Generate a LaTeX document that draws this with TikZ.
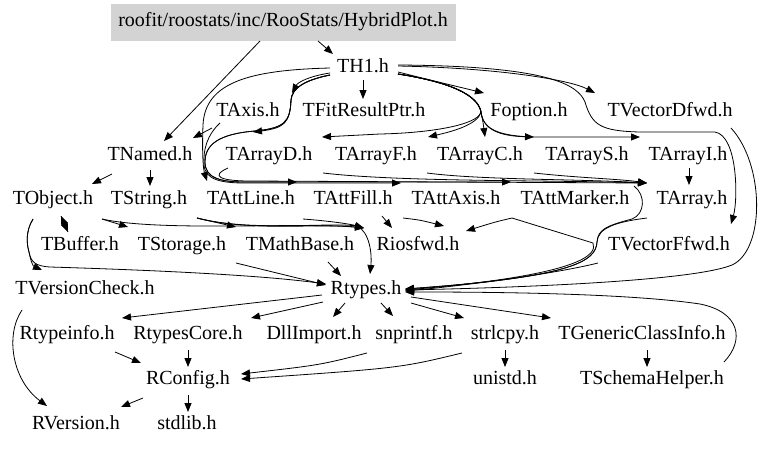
\documentclass[tikz,border=0pt]{standalone}
\usepackage{fontspec}
\setmainfont{Liberation Serif}
\usetikzlibrary{arrows.meta,calc}
\newcommand\nfont{\fontsize{20}{24}\selectfont}
\begin{document}
\begin{tikzpicture}[x=1pt,y=-1pt,
  nd/.style={inner sep=0pt,font=\nfont,text height=13pt,text depth=4pt,anchor=center},
  hp/.style={nd,fill={rgb,255:red,211;green,211;blue,211},minimum width=345pt,minimum height=37pt},
  lnk/.style={draw=black,line width=0.8pt,-{Triangle[length=9pt,width=7pt]}},
  lnkb/.style={draw=black,line width=0.8pt}]
\useasboundingbox (0,0) rectangle (768,448);
% nodes
\node[hp] (HP) at (283,22) {roofit/roostats/inc/RooStats/HybridPlot.h};
\node[nd] (TH1) at (363,68) {TH1.h};
\node[nd] (TAxis) at (248,112) {TAxis.h};
\node[nd] (TFit) at (364,112) {TFitResultPtr.h};
\node[nd] (Fopt) at (529,112) {Foption.h};
\node[nd] (TVD) at (670,112) {TVectorDfwd.h};
\node[nd] (TNamed) at (150,156) {TNamed.h};
\node[nd] (TAD) at (269,156) {TArrayD.h};
\node[nd] (TAF) at (376,156) {TArrayF.h};
\node[nd] (TAC) at (480,156) {TArrayC.h};
\node[nd] (TAS) at (587,156) {TArrayS.h};
\node[nd] (TAI) at (688,156) {TArrayI.h};
\node[nd] (TObj) at (53,200) {TObject.h};
\node[nd] (TStr) at (149,200) {TString.h};
\node[nd] (TAL) at (251,200) {TAttLine.h};
\node[nd] (TAFill) at (353,200) {TAttFill.h};
\node[nd] (TAAx) at (456,200) {TAttAxis.h};
\node[nd] (TAM) at (575,200) {TAttMarker.h};
\node[nd] (TArr) at (692,200) {TArray.h};
\node[nd] (TBuf) at (80,246) {TBuffer.h};
\node[nd] (TSto) at (182,246) {TStorage.h};
\node[nd] (TMB) at (300,246) {TMathBase.h};
\node[nd] (Rios) at (418,246) {Riosfwd.h};
\node[nd] (TVF) at (669,246) {TVectorFfwd.h};
\node[nd] (TVC) at (85,290) {TVersionCheck.h};
\node[nd] (Rty) at (366,290) {Rtypes.h};
\node[nd] (Rti) at (67,335) {Rtypeinfo.h};
\node[nd] (RtC) at (188,335) {RtypesCore.h};
\node[nd] (Dll) at (314,335) {DllImport.h};
\node[nd] (snp) at (414,335) {snprintf.h};
\node[nd] (strl) at (505,335) {strlcpy.h};
\node[nd] (TGCI) at (642,335) {TGenericClassInfo.h};
\node[nd] (RCf) at (188,380) {RConfig.h};
\node[nd] (uni) at (505,380) {unistd.h};
\node[nd] (TSH) at (652,380) {TSchemaHelper.h};
\node[nd] (RVer) at (76,425) {RVersion.h};
\node[nd] (stdl) at (187,425) {stdlib.h};
% edges
\draw[lnk] ($(HP)+(35,19)$) -- ($(TH1)+(-30,-14)$);
\draw[lnk] ($(HP)+(-23,19)$) -- ($(TNamed)+(14,-15)$);
\draw[lnk] ($(TH1)+(-33,5)$) .. controls (310,76) and (298,82) .. ($(TAxis)+(44,-19)$);
\draw[lnk] ($(TH1)+(-33,7)$) .. controls (305,80) and (292,88) .. (291,100) .. controls (290,122) and (285,128) .. ($(TAxis)+(5,20)$);
\draw[lnk] ($(TH1)+(-33,0)$) .. controls (250,70) and (205,82) .. (203,125) .. controls (202,150) and (203,168) .. ($(TAL)+(-44,-19)$);
\draw[lnk] ($(TH1)+(-33,7)$) .. controls (305,80) and (292,88) .. (291,100) .. controls (290,122) and (285,128) .. (255,131) .. controls (218,134) and (205,145) .. (205,162) .. controls (205,178) and (220,182) .. (245,182) -- ($(TAFill)+(-56,-18)$);
\draw[lnk] ($(TH1)+(-33,7)$) .. controls (305,80) and (292,88) .. (291,100) .. controls (290,122) and (285,128) .. (255,131) .. controls (218,134) and (205,145) .. (205,162) .. controls (205,178) and (220,182) .. (245,182) -- ($(TAM)+(-64,-18)$);
\draw[lnk] ($(TAxis)+(-28,11)$) .. controls (207,135) and (203,150) .. (204,165) .. controls (205,180) and (222,183) .. (245,183) -- ($(TAAx)+(-55,-17)$);
\draw[lnk] ($(TAxis)+(-36,16)$) -- ($(TNamed)+(43,-18)$);
\draw[lnk] ($(TAD)+(-41,12)$) .. controls (210,176) and (220,181) .. (250,181) -- ($(TArr)+(-45,-17)$);
\draw[lnk] ($(TAF)+(-53,17)$) .. controls (400,182) and (550,180) .. ($(TArr)+(-45,-17)$);
\draw[lnk] ($(TAC)+(-53,17)$) .. controls (480,180) and (580,179) .. ($(TArr)+(-45,-17)$);
\draw[lnk] ($(TAS)+(-53,17)$) .. controls (580,178) and (620,179) .. ($(TArr)+(-45,-17)$);
\draw[lnk] ($(TAI)+(1,12)$) -- ($(TArr)+(-3,-15)$);
\draw[lnk] ($(TH1)+(0,12)$) -- ($(TFit)+(-1,-13)$);
\draw[lnk] ($(TH1)+(35,4)$) .. controls (430,80) .. ($(Fopt)+(-45,-19)$);
\draw[lnk] ($(TH1)+(35,6)$) .. controls (450,82) and (478,95) .. (481,112) .. controls (483,122) .. ($(TAC)+(5,-19)$);
\draw[lnk] ($(TH1)+(35,6)$) .. controls (450,82) and (478,95) .. (481,112) .. controls (478,125) and (450,132) .. ($(TAF)+(52,-19)$);
\draw[lnk] ($(TH1)+(35,6)$) .. controls (450,82) and (478,95) .. (481,112) .. controls (478,125) and (430,133) .. (380,134) -- ($(TAD)+(53,-19)$);
\draw[lnk] ($(TH1)+(35,6)$) .. controls (450,82) and (478,95) .. (481,112) .. controls (483,130) and (500,136) .. ($(TAS)+(-53,-19)$);
\draw[lnk] ($(TH1)+(35,6)$) .. controls (450,82) and (478,95) .. (481,112) .. controls (483,130) and (500,136) .. (534,137) -- ($(TAI)+(-48,-19)$);
\draw[lnk] ($(TH1)+(35,-2)$) .. controls (500,68) and (570,80) .. ($(TVD)+(-75,-19)$);
\draw[lnk] ($(TH1)+(35,-3)$) .. controls (550,66) and (578,85) .. (585,102) .. controls (592,125) and (600,131) .. (640,132) -- (715,132) .. controls (738,136) and (738,200) .. ($(TVF)+(62,-22)$);
\draw[lnk] ($(TVD)+(61,16)$) .. controls (765,165) and (765,250) .. (732,265) .. controls (690,282) and (500,288) .. ($(Rty)+(39,0)$);
\draw[lnk] ($(TAM)+(59,-14)$) .. controls (646,195) and (645,214) .. (632,219) .. controls (605,226) and (598,230) .. (597,242) .. controls (596,262) and (570,277) .. ($(Rty)+(39,-1)$);
\draw[lnk] ($(TArr)+(-45,18)$) .. controls (615,222) and (598,228) .. (597,242) .. controls (596,262) and (570,277) .. ($(Rty)+(39,-1)$);
\draw[lnk] ($(TAAx)+(56,18)$) -- (593,243) .. controls (598,255) and (580,275) .. ($(Rty)+(39,0)$);
\draw[lnk] ($(TVF)+(-71,17)$) .. controls (550,275) and (450,287) .. ($(Rty)+(39,1)$);
\draw[lnk] ($(TSH)+(72,-18)$) .. controls (745,340) and (740,312) .. (700,304) .. controls (620,292) and (460,292) .. ($(Rty)+(39,2)$);
\draw[lnk] ($(TAFill)+(29,16)$) -- ($(Rios)+(-26,-18)$);
\draw[lnk] ($(TAAx)+(-53,18)$) .. controls (420,220) .. ($(Rios)+(26,-20)$);
\draw[lnk] ($(TAM)+(-63,18)$) .. controls (495,222) .. ($(Rios)+(48,-15)$);
\draw[lnk] ($(TAL)+(52,19)$) .. controls (330,221) and (350,224) .. ($(Rios)+(-54,-18)$);
\draw[lnk] ($(TObj)+(49,19)$) -- ($(TSto)+(-54,-19)$);
\draw[lnk] ($(TObj)+(49,19)$) .. controls (160,232) and (300,222) .. ($(Rios)+(-54,-18)$);
\draw[lnk] ($(TStr)+(48,18)$) -- ($(TMB)+(-64,-19)$);
\draw[lnk] ($(TStr)+(48,18)$) .. controls (250,232) and (320,223) .. ($(Rios)+(-54,-18)$);
\draw[lnk] ($(TStr)+(48,18)$) .. controls (250,232) and (330,222) .. (357,226) .. controls (370,232) and (372,255) .. ($(Rty)+(4,-16)$);
\draw[lnk] ($(TNamed)+(-38,18)$) -- ($(TObj)+(39,-16)$);
\draw[lnk] ($(TNamed)+(0,14)$) -- ($(TStr)+(1,-14)$);
\draw[lnk] ($(TObj)+(8,16)$) -- ($(TBuf)+(-12,-14)$);
\draw[lnk] ($(TBuf)+(-12,-14)$) -- ($(TObj)+(8,16)$);
\draw[lnk] ($(TObj)+(-20,19)$) .. controls (25,232) and (27,245) .. (29,252) .. controls (31,262) and (33,266) .. ($(TVC)+(-43,-20)$);
\draw[lnk] ($(TObj)+(-20,19)$) .. controls (25,232) and (27,245) .. (29,252) .. controls (31,262) and (35,266) .. (50,267) .. controls (150,270) and (260,275) .. ($(Rty)+(-40,-6)$);
\draw[lnk] ($(TSto)+(54,17)$) -- ($(Rty)+(-40,-5)$);
\draw[lnk] ($(TMB)+(28,16)$) -- ($(Rty)+(-25,-14)$);
\draw[lnk] ($(TVC)+(-63,20)$) .. controls (5,335) and (12,380) .. ($(RVer)+(-29,-19)$);
\draw[lnk] ($(Rty)+(-44,5)$) -- ($(Rti)+(55,-17)$);
\draw[lnk] ($(Rty)+(-43,12)$) -- ($(RtC)+(63,-17)$);
\draw[lnk] ($(Rty)+(-21,13)$) -- ($(Dll)+(19,-18)$);
\draw[lnk] ($(Rty)+(15,13)$) -- ($(snp)+(-21,-19)$);
\draw[lnk] ($(Rty)+(45,13)$) -- ($(strl)+(-41,-17)$);
\draw[lnk] ($(Rty)+(45,7)$) -- ($(TGCI)+(-91,-17)$);
\draw[lnk] ($(Rti)+(48,17)$) -- ($(RCf)+(-47,-17)$);
\draw[lnk] ($(RtC)+(0,15)$) -- ($(RCf)+(0,-13)$);
\draw[lnk] ($(snp)+(-47,18)$) .. controls (320,365) .. ($(RCf)+(53,-6)$);
\draw[lnk] ($(strl)+(-43,18)$) .. controls (400,368) .. ($(RCf)+(53,-1)$);
\draw[lnk] ($(strl)+(0,15)$) -- ($(uni)+(0,-13)$);
\draw[lnk] ($(TGCI)+(5,15)$) -- ($(TSH)+(-5,-13)$);
\draw[lnk] ($(RCf)+(-45,18)$) -- ($(RVer)+(45,-18)$);
\draw[lnk] ($(RCf)+(0,15)$) -- ($(stdl)+(1,-13)$);
\end{tikzpicture}
\end{document}
